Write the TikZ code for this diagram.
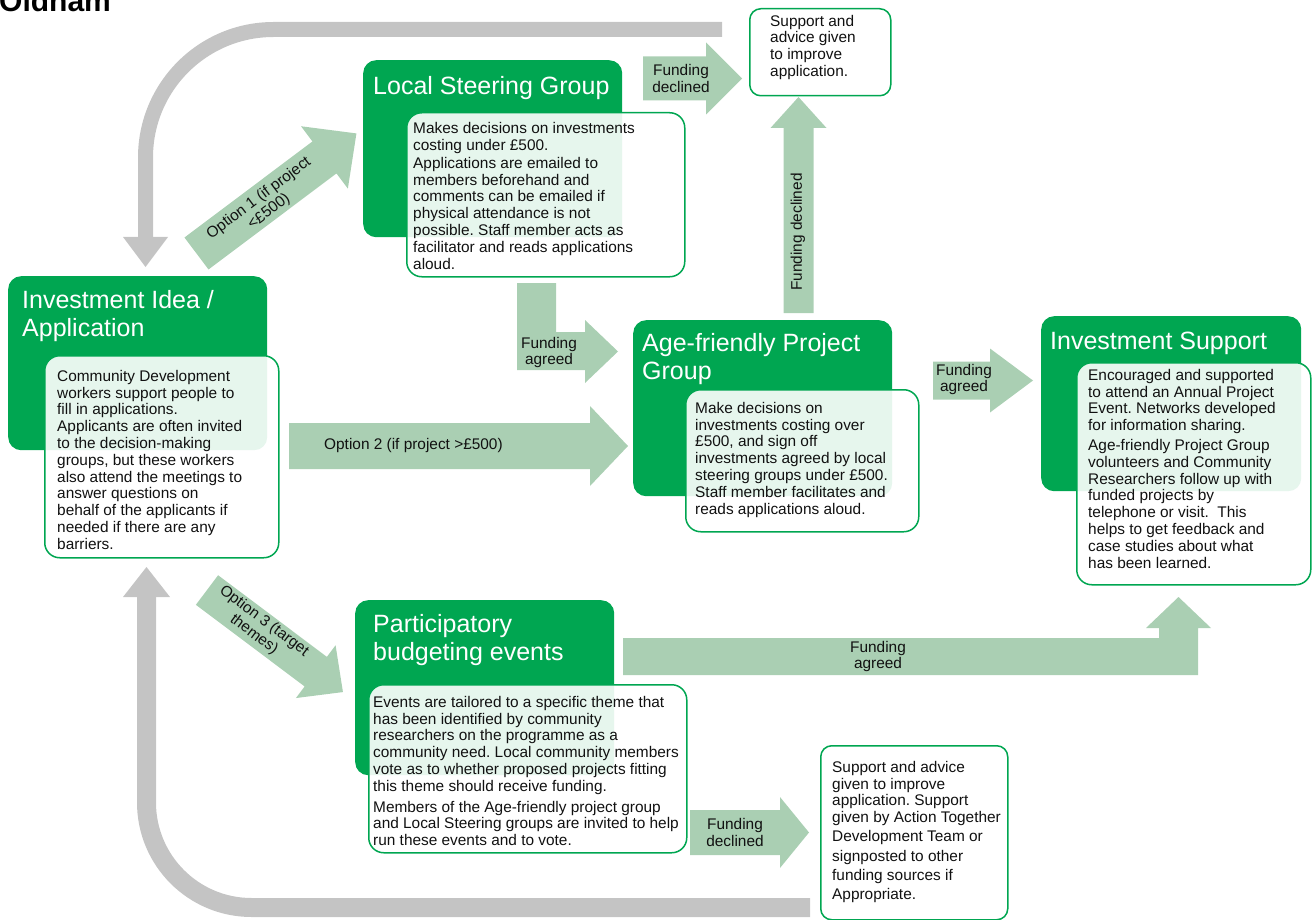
\documentclass[tikz,border=0pt]{standalone}
\usepackage{fontspec}
\setmainfont{Liberation Sans}
\frenchspacing
\definecolor{dkgreen}{HTML}{00A651}
\definecolor{lgreen}{HTML}{AACFB3}
\definecolor{grayarrow}{HTML}{C4C4C4}
\definecolor{txt}{HTML}{111111}
\tikzset{
  darkbox/.style={fill=dkgreen, rounded corners=13pt, inner sep=0pt, anchor=north west},
  textbox/.style={draw=dkgreen, line width=1.5pt, fill=white, fill opacity=0.9, rounded corners=15pt, inner sep=0pt, anchor=north west},
  whitebox/.style={draw=dkgreen, line width=1.5pt, fill=white, rounded corners=11pt, inner sep=0pt, anchor=north west},
  titletext/.style={text=white, font=\fontsize{25}{28}\selectfont, align=left, inner sep=0pt, anchor=north west},
  bodytext/.style={text=txt, font=\fontsize{15.4}{16.8}\selectfont, align=left, inner sep=0pt, anchor=north west},
  arrlabel/.style={text=txt, font=\fontsize{15.4}{16.8}\selectfont, align=center, inner sep=0pt},
  arrfill/.style={fill=lgreen}
}
\newcommand\blockarr[6]{%
  \begin{scope}[shift={(#1)},rotate=#2]
    \fill[arrfill] (0,{-(#4)/2}) -- ({#3-#6},{-(#4)/2}) -- ({#3-#6},{-(#5)/2}) -- (#3,0)
      -- ({#3-#6},{(#5)/2}) -- ({#3-#6},{(#4)/2}) -- (0,{(#4)/2}) -- cycle;
  \end{scope}}
\begin{document}
\begin{tikzpicture}[x=1pt,y=-1pt]
\useasboundingbox (0,0) rectangle (1312,920);
\clip (0,0) rectangle (1312,920);

% title
\node[font=\bfseries\fontsize{30}{34}\selectfont, anchor=base west, inner sep=0pt, text=black] (oldham) at (-1,12) {Oldham};

% gray return arrows
\coordinate (gtopstart) at (722,29.5);
\coordinate (gtopcorner) at (145.5,29.5);
\coordinate (gtopend) at (145.5,238);
\draw[grayarrow, line width=15pt, rounded corners=128pt] (gtopstart) -- (gtopcorner) -- (gtopend);
\fill[grayarrow] (123,237) -- (168,237) -- (145.5,267) -- cycle;

\coordinate (gbotstart) at (810,907.5);
\coordinate (gbotcorner) at (146.5,907.5);
\coordinate (gbotend) at (146.5,596);
\draw[grayarrow, line width=19pt, rounded corners=105pt] (gbotstart) -- (gbotcorner) -- (gbotend);
\fill[grayarrow] (123,597) -- (170,597) -- (146.5,567) -- cycle;

% green block arrows
\coordinate (opt1) at (196.5,253.5);
\blockarr{opt1}{36.9}{200}{40}{78}{40}
\coordinate (opt3) at (207,590);
\blockarr{opt3}{-36.9}{170}{37}{66}{34}
\coordinate (opt2) at (289,446);
\blockarr{opt2}{0}{339}{46}{80}{38}
\coordinate (decl1) at (643,78.5);
\blockarr{decl1}{0}{99}{44}{72}{36}
\coordinate (decl2) at (798.5,313);
\blockarr{decl2}{90}{216}{30}{56}{31}
\coordinate (agr2) at (933,380.5);
\blockarr{agr2}{0}{100}{38}{64}{43}
\coordinate (decl3) at (690,832.5);
\blockarr{decl3}{0}{119}{45}{71}{29}
% bent arrow (B -> C)
\fill[arrfill] (517,283) -- (556,283) -- (556,332) -- (585,332) -- (585,320) -- (618,351.5)
  -- (585,383) -- (585,370) -- (517,370) -- cycle;
% long bent arrow (E -> D)
\fill[arrfill] (623,638) -- (1159,638) -- (1159,628) -- (1146,628) -- (1178.5,597) -- (1211,628)
  -- (1198,628) -- (1198,675) -- (623,675) -- cycle;

% arrow labels
\node[arrlabel, rotate=36.9] (lopt1) at (264,205) {Option 1 (if project\\<£500)};
\node[arrlabel, rotate=-36.9] (lopt3) at (259,628) {Option 3 (target\\themes)};
\node[arrlabel, anchor=west] (lopt2) at (324,446) {Option 2 (if project >£500)};
\node[arrlabel] (ldecl1) at (681,78.5) {Funding\\declined};
\node[arrlabel, rotate=90] (ldecl2) at (798,232) {Funding declined};
\node[arrlabel] (lagr1) at (549,352.5) {Funding\\agreed};
\node[arrlabel] (lagr2) at (964,379.5) {Funding\\agreed};
\node[arrlabel] (lagr3) at (878,656.5) {Funding\\agreed};
\node[arrlabel] (ldecl3) at (735,832.5) {Funding\\declined};

% dark boxes
\node[darkbox, minimum width=259pt, minimum height=174pt] (ideaD) at (8,276) {};
\node[darkbox, minimum width=259pt, minimum height=177pt] (lsgD) at (363,60) {};
\node[darkbox, minimum width=259pt, minimum height=176pt] (afpD) at (633,320) {};
\node[darkbox, minimum width=260pt, minimum height=175pt] (supD) at (1041,316) {};
\node[darkbox, minimum width=259pt, minimum height=175pt] (pbeD) at (355,600) {};

% titles
\node[titletext] (ideaT) at (22,289) {\rule{0pt}{19pt}Investment Idea /\\Application};
\node[titletext] (lsgT) at (373,75) {\rule{0pt}{19pt}Local Steering Group};
\node[titletext] (afpT) at (642,332) {\rule{0pt}{19pt}Age-friendly Project\\Group};
\node[titletext] (supT) at (1050,330) {\rule{0pt}{19pt}Investment Support};
\node[titletext] (pbeT) at (373,613) {\rule{0pt}{19pt}Participatory\\budgeting events};

% text boxes
\node[textbox, minimum width=234pt, minimum height=202pt] (ideaB) at (44,355) {};
\node[textbox, minimum width=278pt, minimum height=164pt] (lsgB) at (406,112) {};
\node[textbox, minimum width=233pt, minimum height=142pt] (afpB) at (685,389) {};
\node[textbox, minimum width=234pt, minimum height=222pt] (supB) at (1076,362) {};
\node[textbox, minimum width=318pt, minimum height=168pt] (pbeB) at (368,684) {};
\node[whitebox, minimum width=141pt, minimum height=87pt] (adv1B) at (749,8) {};
\node[whitebox, minimum width=187pt, minimum height=174pt] (adv2B) at (820,745) {};

% body texts
\node[bodytext] (ideaX) at (57,369.5) {\rule{0pt}{11.5pt}Community Development\\workers support people to\\fill in applications.\\Applicants are often invited\\to the decision-making\\groups, but these workers\\also attend the meetings to\\answer questions on\\behalf of the applicants if\\needed if there are any\\barriers.};
\node[bodytext] (lsgX) at (413,121.5) {\rule{0pt}{11.5pt}Makes decisions on investments\\costing under £500.\\[1.5pt]Applications are emailed to\\members beforehand and\\comments can be emailed if\\physical attendance is not\\possible. Staff member acts as\\facilitator and reads applications\\aloud.};
\node[bodytext] (afpX) at (695,401.5) {\rule{0pt}{11.5pt}Make decisions on\\investments costing over\\£500, and sign off\\investments agreed by local\\steering groups under £500.\\Staff member facilitates and\\reads applications aloud.};
\node[bodytext] (supX) at (1088,368.5) {\rule{0pt}{11.5pt}Encouraged and supported\\to attend an Annual Project\\Event. Networks developed\\for information sharing.\\[3pt]Age-friendly Project Group\\volunteers and Community\\Researchers follow up with\\funded projects by\\telephone or visit.\ \ This\\helps to get feedback and\\case studies about what\\has been learned.};
\node[bodytext] (pbeX) at (373,695.5) {\rule{0pt}{11.5pt}Events are tailored to a specific theme that\\has been identified by community\\researchers on the programme as a\\community need. Local community members\\vote as to whether proposed projects fitting\\this theme should receive funding.\\[4pt]Members of the Age-friendly project group\\and Local Steering groups are invited to help\\run these events and to vote.};
\node[bodytext] (adv1X) at (770,14.5) {\rule{0pt}{11.5pt}Support and\\advice given\\to improve\\application.};
\node[bodytext] (adv2X) at (832,760.5) {\rule{0pt}{11.5pt}Support and advice\\given to improve\\application. Support\\given by Action Together\\[2.5pt]Development Team or\\[2.5pt]signposted to other\\[2.5pt]funding sources if\\[2.5pt]Appropriate.};
\end{tikzpicture}
\end{document}
